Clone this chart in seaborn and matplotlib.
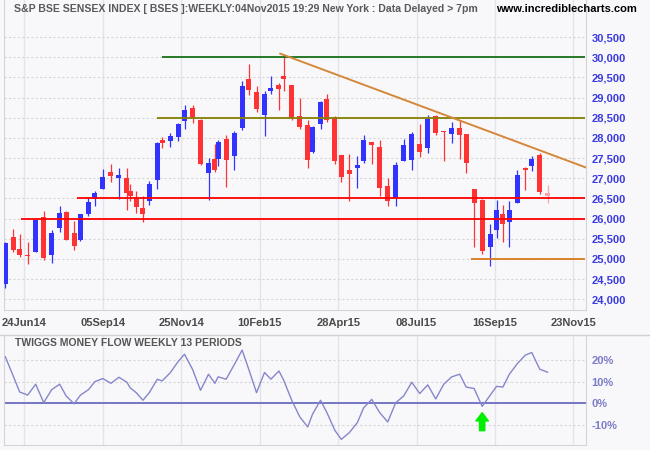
import matplotlib
matplotlib.use("Agg")
import matplotlib.pyplot as plt
from matplotlib.lines import Line2D
import numpy as np
import pandas as pd
import seaborn as sns

# weekly bars, x = trading-day count from the first bar
day = [0, 5, 9, 14, 19, 24, 29, 34, 38, 43, 47, 52, 56, 61, 66, 71, 76, 78, 82, 86,
       90, 95, 98, 103, 108, 112, 117, 122, 127, 131, 133, 138, 143, 148, 152, 157, 162, 166, 171, 174,
       179, 184, 189, 192, 197, 201, 206, 210, 215, 220, 224, 229, 234, 239, 244, 249, 254, 259, 264, 269,
       274, 279, 284, 288, 293, 298, 303, 307, 311, 315, 320, 325, 329, 334, 339]

open_ = [24387, 25544, 25246, 25106, 25172, 26040, 25106, 25775, 26163, 25635,
         25470, 26114, 26494, 26742, 27155, 27015, 27007, 26684, 26511, 26263,
         26445, 26965, 27949, 27932, 28032, 28428, 28742, 28445, 27139, 27478,
         27486, 27974, 27544, 28238, 29461, 29139, 28577, 29164, 29304, 29536,
         29312, 28544, 28321, 27643, 28354, 28957, 28519, 27577, 27205, 27263,
         27436, 27899, 27767, 26808, 26519, 27436, 27453, 27849, 27759, 28544,
         28147, 28106, 28246, 28098, 26734, 26462, 25305, 25726, 26106, 25925,
         26395, 27247, 27313, 27577, 26635]
high = [25420, 25742, 25618, 25420, 25990, 26188, 25717, 26312, 26188, 25932,
        26122, 26535, 26684, 27230, 27354, 27246, 27255, 26858, 26684, 26560,
        26932, 27907, 28023, 28122, 28370, 28817, 28817, 28478, 27494, 27850,
        27949, 28073, 28180, 29412, 29833, 29288, 29155, 29536, 29354, 30056,
        29312, 28990, 28445, 28296, 28916, 29089, 28544, 27577, 27602, 27552,
        28073, 27899, 27949, 27007, 27403, 27973, 28147, 28345, 28568, 28560,
        28172, 28387, 28445, 28098, 26734, 26495, 25867, 26462, 26338, 26445,
        27205, 27288, 27552, 27619, 26834]
low = [24288, 25180, 25056, 24883, 25172, 24973, 24907, 25676, 25470, 25230,
       25445, 26073, 26312, 26742, 26916, 26478, 26213, 26445, 26147, 25924,
       26329, 26734, 27759, 27775, 27932, 28230, 28378, 27329, 26470, 27164,
       27312, 26792, 27213, 28197, 29073, 28651, 28056, 29098, 28693, 29172,
       28445, 28230, 27263, 27627, 28230, 28395, 27362, 26916, 26445, 26767,
       27378, 27362, 26569, 26321, 26321, 27436, 27213, 27527, 27626, 28081,
       27436, 27883, 27486, 27139, 25305, 25131, 24834, 25528, 25412, 25305,
       26395, 26718, 27181, 26602, 26395]
close = [25395, 25230, 25097, 25081, 25973, 25031, 25635, 26130, 25478, 25329,
         26106, 26411, 26635, 27031, 27056, 27081, 26643, 26569, 26296, 26122,
         26858, 27874, 27874, 28040, 28346, 28693, 28486, 27362, 27378, 27213,
         27899, 27461, 28123, 29288, 29197, 28726, 29089, 29238, 29221, 29461,
         28486, 28271, 27461, 28271, 28899, 28445, 27436, 27023, 27114, 27329,
         27949, 27833, 26767, 26445, 27321, 27825, 28098, 27660, 28469, 28131,
         28123, 28238, 28081, 27387, 26395, 25205, 25619, 26214, 25875, 26214,
         27081, 27205, 27470, 26668, 26569]

# Twiggs Money Flow (13 week), percent
tmf = [21.5, 12.5, 5.2, 3.8, 8.8, 0.3, 6.3, 8.8, 3.4, -0.2,
       3.8, 6.3, 10.0, 11.4, 9.2, 12.0, 9.7, 7.2, 4.8, 1.4,
       4.9, 11.1, 10.3, 14.0, 19.2, 22.6, 15.7, 6.0, 13.4, 9.2,
       12.2, 11.1, 17.7, 24.5, 16.0, 4.9, 14.2, 11.1, 14.9, 10.6,
       1.4, -6.2, -10.9, -5.0, 1.4, -4.3, -12.5, -16.6, -13.5, -8.9,
       -2.0, 1.8, -4.3, -8.6, 0.3, 3.4, 9.7, 4.5, 8.5, 2.0,
       8.8, 12.2, 13.4, 7.5, 6.8, -1.4, 3.7, 7.8, 7.5, 13.4,
       18.3, 22.2, 23.4, 15.7, 14.3]

tick_days = [12, 61, 110, 159, 208, 257, 306, 355]
tick_labels = ["24Jun14", "05Sep14", "25Nov14", "10Feb15", "28Apr15", "08Jul15", "16Sep15", "23Nov15"]

# support / resistance lines drawn on the chart
levels = [30000, 28500, 26500, 26000, 25000]
level_start = [98, 95, 45, 10, 291]
level_end = [362, 362, 362, 362, 362]
level_colors = ["#167016", "#858000", "#ff0000", "#ff0000", "#d87a20"]

trend_day = [171.7, 362.8]
trend_val = [30092, 27268]

BG = "#f8f8fa"
UP = "#3333ff"
DOWN = "#ff3333"
PARTIAL = "#f4a8a8"

sns.set_theme(style="white", rc={"axes.facecolor": BG, "figure.facecolor": BG})
plt.rcParams["font.family"] = ["Liberation Sans", "DejaVu Sans"]

df = pd.DataFrame({"day": day, "open": open_, "high": high, "low": low,
                   "close": close, "tmf": tmf})
colors = np.where(df["close"] >= df["open"], UP, DOWN).astype(object)
colors[-1] = PARTIAL
body = (df["close"] - df["open"]).to_numpy().astype(float)
body = np.where(np.abs(body) < 25, 25, body)

fig = plt.figure(figsize=(6.5, 4.5), dpi=100)
ax = fig.add_axes([4 / 650, 140 / 450, 582 / 650, 310 / 450])
ax2 = fig.add_axes([4 / 650, 5 / 450, 582 / 650, 109 / 450])

# price panel
ax.vlines(df["day"], df["low"], df["high"], colors=colors, lw=0.9, zorder=3)
ax.bar(df["day"], body, bottom=df["open"], width=3.1, color=colors, linewidth=0, zorder=3)
ax.hlines(levels, level_start, level_end, colors=level_colors, lw=1.3, zorder=4)
sns.lineplot(x=trend_day, y=trend_val, ax=ax, color="#d4883a", lw=1.4, zorder=4)

ax.set_xlim(-0.8, 362.9)
ax.set_ylim(23735, 31420)
ax.set_xticks(tick_days)
ax.set_xticklabels(tick_labels)
ax.set_yticks(range(24000, 31000, 500))
ax.set_yticklabels([f"{v:,}" for v in range(24000, 31000, 500)])
ax.yaxis.tick_right()
ax.xaxis.grid(True, color="#e4e4e8", lw=1.0, ls="-")
ax.yaxis.grid(True, color="#d6d6d6", lw=0.8, ls=(0, (2, 2)))
ax.set_axisbelow(True)
ax.tick_params(axis="x", length=0, pad=6, labelsize=8, labelcolor="#4a4a4a")
ax.tick_params(axis="y", length=0, pad=4, labelsize=8, labelcolor="#3a3ae0")
for lbl in ax.get_xticklabels() + ax.get_yticklabels():
    lbl.set_fontweight("bold")
ax.set_xlabel("")
ax.set_ylabel("")
for side, sp in ax.spines.items():
    sp.set_color("#d4d4d8")
    sp.set_linewidth(0.8)
ax.spines["top"].set_visible(False)

# money flow panel
sns.lineplot(data=df, x="day", y="tmf", ax=ax2, color="#8686cc", lw=1.0, zorder=3)
ax2.axhline(0, color="#6c6cc0", lw=1.3, zorder=2)
ax2.annotate("", xy=(df["day"].iloc[65], tmf[65] - 2.9), xytext=(df["day"].iloc[65], -12.6),
             arrowprops=dict(arrowstyle="simple,head_width=0.9,head_length=0.6,tail_width=0.38",
                             color="#00ee00", shrinkA=0, shrinkB=0, mutation_scale=10))
ax2.set_xlim(-0.8, 362.9)
ax2.set_ylim(-19.2, 31)
ax2.set_xticks(tick_days)
ax2.set_xticklabels([])
ax2.set_yticks([-10, 0, 10, 20])
ax2.set_yticklabels(["-10%", "0%", "10%", "20%"])
ax2.yaxis.tick_right()
ax2.xaxis.grid(True, color="#e4e4e8", lw=1.0, ls="-")
ax2.yaxis.grid(True, color="#d6d6d6", lw=0.8, ls=(0, (2, 2)))
ax2.set_axisbelow(True)
ax2.tick_params(axis="x", length=0)
ax2.tick_params(axis="y", length=0, pad=4, labelsize=8, labelcolor="#7c7cc8")
for lbl in ax2.get_yticklabels():
    lbl.set_fontweight("bold")
ax2.set_xlabel("")
ax2.set_ylabel("")
for side, sp in ax2.spines.items():
    sp.set_color("#d4d4d8")
    sp.set_linewidth(0.8)
ax2.spines["top"].set_visible(False)

fig.add_artist(Line2D([0, 1], [115 / 450, 115 / 450], color="#cfcfd4", lw=1.0))

fig.text(14 / 650, 1 - 9 / 450,
         "S&P BSE SENSEX INDEX [ BSES ]:WEEKLY:04Nov2015 19:29 New York : Data Delayed > 7pm",
         fontsize=7.6, fontweight="bold", color="#5a5a5a", va="center")
fig.text(637 / 650, 1 - 9 / 450, "www.incrediblecharts.com", fontsize=8,
         fontweight="bold", color="black", va="center", ha="right")
fig.text(15 / 650, 1 - 343 / 450, "TWIGGS MONEY FLOW WEEKLY 13 PERIODS", fontsize=7.5,
         fontweight="bold", color="#555555", va="center")

fig.savefig("out.png", dpi=100, facecolor=BG)
